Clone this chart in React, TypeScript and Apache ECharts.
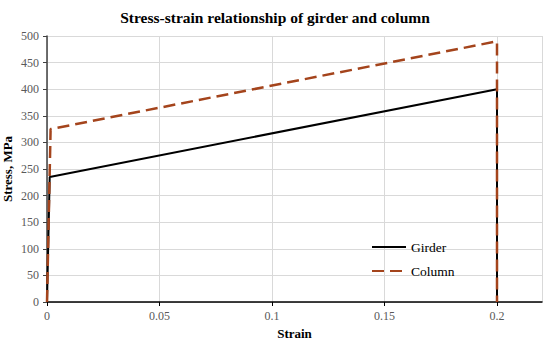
import React, { useEffect, useRef } from "react";
import * as echarts from "echarts";

const girderStrain = [0, 0.0012, 0.2, 0.2];
const girderStress = [0, 235, 400, 0];
const columnStrain = [0, 0.0016, 0.2, 0.2];
const columnStress = [0, 325, 490, 0];
const seriesNames = ["Girder", "Column"];

const serif = "'Liberation Serif', 'Times New Roman', serif";

export default function App() {
  const ref = useRef<HTMLDivElement>(null);
  useEffect(() => {
    if (!ref.current) return;
    const chart = echarts.init(ref.current, undefined, { renderer: "svg" });
    const zip = (xs: number[], ys: number[]) => xs.map((x, i) => [x, ys[i]]);
    chart.setOption({
      animation: false,
      backgroundColor: "#ffffff",
      title: {
        text: "Stress-strain relationship of girder and column",
        left: "center",
        top: 4,
        textStyle: { fontFamily: serif, fontWeight: "bold", fontSize: 15.5, color: "#000" },
      },
      grid: { left: 47, right: 8, top: 36, bottom: 42, containLabel: false, outerBoundsMode: "none" },
      legend: {
        orient: "vertical",
        left: 366,
        top: 235,
        itemWidth: 34,
        itemHeight: 12,
        itemGap: 10,
        itemStyle: { opacity: 0 },
        textStyle: { fontFamily: serif, fontSize: 13.5, color: "#000" },
        data: seriesNames,
      },
      xAxis: {
        type: "value",
        min: 0,
        max: 0.22,
        interval: 0.05,
        name: "Strain",
        nameLocation: "middle",
        nameGap: 22,
        nameTextStyle: { fontFamily: serif, fontWeight: "bold", fontSize: 13, color: "#000" },
        axisLine: { show: true, lineStyle: { color: "#000", width: 1.5 } },
        axisTick: { show: true, inside: false, length: 4, lineStyle: { color: "#000" } },
        axisLabel: {
          showMaxLabel: false,
          fontFamily: serif,
          fontSize: 12,
          color: "#595959",
          margin: 8,
          formatter: (v: number) => (v > 0.2001 ? "" : String(parseFloat(v.toFixed(2)))),
        },
        splitLine: { show: true, lineStyle: { color: "#d9d9d9" } },
      },
      yAxis: {
        type: "value",
        min: 0,
        max: 500,
        interval: 50,
        name: "Stress, MPa",
        nameLocation: "middle",
        nameGap: 33,
        nameMoveOverlap: false,
        nameTextStyle: { fontFamily: serif, fontWeight: "bold", fontSize: 13, color: "#000" },
        axisLine: { show: true, lineStyle: { color: "#404040", width: 1.5 } },
        axisTick: { show: true, length: 4, lineStyle: { color: "#404040" } },
        axisLabel: { fontFamily: serif, fontSize: 12, color: "#595959", margin: 8 },
        splitLine: { show: true, lineStyle: { color: "#d9d9d9" } },
      },
      series: [
        {
          name: seriesNames[0],
          type: "line",
          data: zip(girderStrain, girderStress),
          symbol: "none",
          lineStyle: { color: "#000000", width: 2 },
          itemStyle: { color: "#000000" },
          z: 3,
        },
        {
          name: seriesNames[1],
          type: "line",
          data: zip(columnStrain, columnStress),
          symbol: "none",
          lineStyle: { color: "#A4441C", width: 2.5, type: [12, 6] },
          itemStyle: { color: "#A4441C" },
          z: 4,
        },
      ],
    });
    return () => chart.dispose();
  }, []);
  return <div ref={ref} style={{ width: 550, height: 344, position: "absolute", left: 0, top: 0 }} />;
}
